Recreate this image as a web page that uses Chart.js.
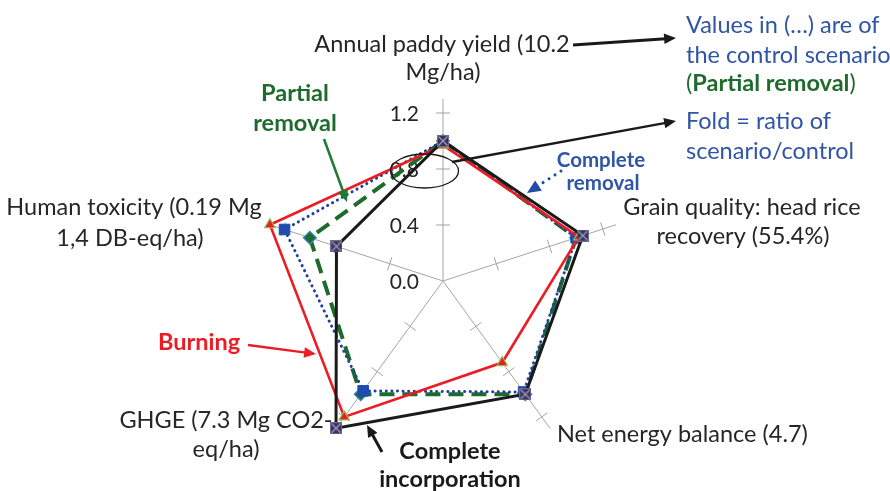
<!DOCTYPE html>
<html>
<head>
<meta charset="utf-8">
<script src="https://cdn.jsdelivr.net/npm/chart.js@4.4.1/dist/chart.umd.min.js"></script>
<style>
  html, body { margin: 0; padding: 0; background: #ffffff; overflow: hidden; }
  canvas { display: block; }
</style>
</head>
<body>
<canvas id="radar" width="890" height="491"></canvas>
<script>
// Axes of the radar (clockwise from the top); values are folds of the control scenario
const axisLabels = [
  ['Annual paddy yield (10.2', 'Mg/ha)'],
  ['Grain quality: head rice', 'recovery (55.4%)'],
  ['Net energy balance (4.7)'],
  ['GHGE (7.3 Mg CO2-', 'eq/ha)'],
  ['Human toxicity (0.19 Mg', '1,4 DB-eq/ha)']
];
const completeIncorporation = [1.00, 1.05, 1.00, 1.30, 0.80];
const burning               = [0.97, 1.02, 0.72, 1.20, 1.30];
const completeRemoval       = [1.00, 1.00, 0.98, 0.97, 1.19];
const partialRemoval        = [1.00, 1.00, 1.00, 1.00, 1.00];
const tickValues = [0.0, 0.4, 0.8, 1.2];
const scaleMax = 1.3;

const FONT = 'Lato, "Open Sans", sans-serif';
const TEXT = '#262626';
const BLUE = '#2f55a4';
const GREEN = '#1e6b2d';
const RED = '#ec1c24';

// square marker with a diagonal cross
function crossSquare(size) {
  const c = document.createElement('canvas');
  c.width = c.height = size;
  const g = c.getContext('2d');
  g.fillStyle = '#393652';
  g.fillRect(0, 0, size, size);
  g.strokeStyle = '#a196d0';
  g.lineWidth = 1.3;
  g.beginPath();
  g.moveTo(1.5, 1.5); g.lineTo(size - 1.5, size - 1.5);
  g.moveTo(size - 1.5, 1.5); g.lineTo(1.5, size - 1.5);
  g.stroke();
  g.strokeStyle = '#6d6890';
  g.lineWidth = 1;
  g.strokeRect(0.5, 0.5, size - 1, size - 1);
  return c;
}

function arrow(ctx, x1, y1, x2, y2, color, width, head, dash) {
  const a = Math.atan2(y2 - y1, x2 - x1);
  const bx = x2 - Math.cos(a) * head * 0.8, by = y2 - Math.sin(a) * head * 0.8;
  ctx.save();
  ctx.strokeStyle = color;
  ctx.fillStyle = color;
  ctx.lineWidth = width;
  ctx.lineCap = dash ? 'round' : 'butt';
  ctx.setLineDash(dash || []);
  ctx.beginPath();
  ctx.moveTo(x1, y1);
  ctx.lineTo(bx, by);
  ctx.stroke();
  ctx.setLineDash([]);
  ctx.beginPath();
  ctx.moveTo(x2, y2);
  ctx.lineTo(x2 - Math.cos(a - 0.42) * head, y2 - Math.sin(a - 0.42) * head);
  ctx.lineTo(x2 - Math.cos(a + 0.42) * head, y2 - Math.sin(a + 0.42) * head);
  ctx.closePath();
  ctx.fill();
  ctx.restore();
}

function text(ctx, str, x, y, opt) {
  ctx.save();
  ctx.font = (opt.weight || 'normal') + ' ' + opt.size + 'px ' + FONT;
  ctx.fillStyle = opt.color || TEXT;
  ctx.textAlign = opt.align || 'center';
  ctx.textBaseline = 'alphabetic';
  ctx.fillText(str, x, y);
  ctx.restore();
}

// tick crosses on every spoke and the value labels beside the top spoke
const spokeTicks = {
  id: 'spokeTicks',
  beforeDatasetsDraw(chart) {
    const s = chart.scales.r;
    const ctx = chart.ctx;
    ctx.save();
    ctx.strokeStyle = '#a3a3a3';
    ctx.lineWidth = 1;
    for (let i = 0; i < chart.data.labels.length; i++) {
      const ang = s.getIndexAngle(i) - Math.PI / 2;
      const px = -Math.sin(ang), py = Math.cos(ang);
      tickValues.forEach(v => {
        if (v === 0) return;
        const p = s.getPointPositionForValue(i, v);
        ctx.beginPath();
        ctx.moveTo(p.x - px * 7, p.y - py * 7);
        ctx.lineTo(p.x + px * 7, p.y + py * 7);
        ctx.stroke();
      });
    }
    ctx.restore();
    s.ticks.forEach(t => {
      if (!tickValues.some(v => Math.abs(v - t.value) < 1e-6)) return;
      const y = s.yCenter - s.getDistanceFromCenterForValue(t.value);
      text(ctx, t.value.toFixed(1), s.xCenter - 24, y + 8, { size: 21, align: 'right' });
    });
  }
};

// axis titles and the explanatory notes
const notes = {
  id: 'notes',
  afterDraw(chart) {
    const ctx = chart.ctx;
    const L = chart.data.labels;
    const S = 23.5;
    text(ctx, L[0][0], 442, 52, { size: S });
    text(ctx, L[0][1], 443, 80, { size: S });
    text(ctx, L[1][0], 742, 215, { size: S });
    text(ctx, L[1][1], 743, 244, { size: S });
    text(ctx, L[2][0], 557, 442, { size: S, align: 'left' });
    text(ctx, L[3][0], 226, 428, { size: S });
    text(ctx, L[3][1], 226, 457, { size: S });
    text(ctx, L[4][0], 134, 215, { size: S });
    text(ctx, L[4][1], 130, 246, { size: S });

    // series call-outs
    text(ctx, 'Partial', 295, 101, { size: S, weight: 'bold', color: GREEN });
    text(ctx, 'removal', 295, 131, { size: S, weight: 'bold', color: GREEN });
    arrow(ctx, 324, 139, 347, 202, '#1f7a33', 2.5, 13);

    text(ctx, 'Complete', 601, 167, { size: 20.5, weight: 'bold', color: BLUE });
    text(ctx, 'removal', 603, 190, { size: 20.5, weight: 'bold', color: BLUE });
    arrow(ctx, 561, 171, 527, 193, '#1f4aa8', 3, 15, [0.1, 7]);

    text(ctx, 'Burning', 199, 350, { size: S, weight: 'bold', color: RED });
    arrow(ctx, 248, 345, 316, 354, RED, 2.5, 13);

    text(ctx, 'Complete', 450, 459, { size: S, weight: 'bold', color: '#1a1a1a' });
    text(ctx, 'incorporation', 450, 487, { size: S, weight: 'bold', color: '#1a1a1a' });
    arrow(ctx, 382, 452, 367, 425, '#1a1a1a', 3, 13);

    // notes on the right
    arrow(ctx, 573, 45, 676, 38, '#1a1a1a', 3, 13);
    text(ctx, 'Values in (\u2026) are of', 686, 33, { size: S, align: 'left', color: BLUE });
    text(ctx, 'the control scenario', 686, 63, { size: S, align: 'left', color: BLUE });
    ctx.save();
    ctx.font = 'normal ' + S + 'px ' + FONT;
    const w1 = ctx.measureText('(').width;
    ctx.font = 'bold ' + S + 'px ' + FONT;
    const w2 = ctx.measureText('Partial removal').width;
    ctx.restore();
    text(ctx, '(', 686, 91, { size: S, align: 'left', color: GREEN });
    text(ctx, 'Partial removal', 686 + w1, 91, { size: S, align: 'left', weight: 'bold', color: GREEN });
    text(ctx, ')', 686 + w1 + w2, 91, { size: S, align: 'left', color: GREEN });
    text(ctx, 'Fold = ratio of', 686, 129, { size: S, align: 'left', color: BLUE });
    text(ctx, 'scenario/control', 686, 159, { size: S, align: 'left', color: BLUE });

    ctx.save();
    ctx.strokeStyle = '#1a1a1a';
    ctx.lineWidth = 1.3;
    ctx.beginPath();
    ctx.ellipse(424.5, 171, 34, 17, 0, 0, Math.PI * 2);
    ctx.stroke();
    ctx.restore();
    arrow(ctx, 452, 162, 676, 121, '#1a1a1a', 2.5, 13);
  }
};

const data = {
  labels: axisLabels,
  datasets: [
    {
      label: 'Complete incorporation',
      data: completeIncorporation,
      borderColor: '#1a1a1a',
      borderWidth: 3,
      pointStyle: crossSquare(12),
      pointRadius: 6
    },
    {
      label: 'Burning',
      data: burning,
      borderColor: RED,
      borderWidth: 2.6,
      pointStyle: 'triangle',
      pointRadius: 6,
      pointBackgroundColor: RED,
      pointBorderColor: '#8fbf5a',
      pointBorderWidth: 1.2
    },
    {
      label: 'Complete removal',
      data: completeRemoval,
      borderColor: '#1f3fa0',
      borderWidth: 3,
      borderDash: [0.1, 5.5],
      borderCapStyle: 'round',
      pointStyle: 'rect',
      pointRadius: 7.5,
      pointBackgroundColor: '#1f4cad',
      pointBorderColor: '#1f4cad',
      pointBorderWidth: 1
    },
    {
      label: 'Partial removal',
      data: partialRemoval,
      borderColor: '#1d6b2c',
      borderWidth: 4,
      borderDash: [15, 8],
      pointStyle: 'rectRot',
      pointRadius: 6.5,
      pointBackgroundColor: '#1d6b2c',
      pointBorderColor: '#3f86c8',
      pointBorderWidth: 1.2
    }
  ]
};

new Chart(document.getElementById('radar'), {
  type: 'radar',
  data,
  options: {
    responsive: false,
    animation: false,
    devicePixelRatio: 1,
    layout: { padding: { left: 261, right: 265, top: 99, bottom: 28 } },
    elements: { line: { tension: 0, fill: false } },
    plugins: { legend: { display: false }, tooltip: { enabled: false } },
    scales: {
      r: {
        min: 0,
        max: scaleMax,
        ticks: { stepSize: 0.4, display: false },
        grid: { display: false },
        angleLines: { display: true, color: '#a6a6a6', lineWidth: 1 },
        pointLabels: { display: false }
      }
    }
  },
  plugins: [spokeTicks, notes]
});
</script>
</body>
</html>
